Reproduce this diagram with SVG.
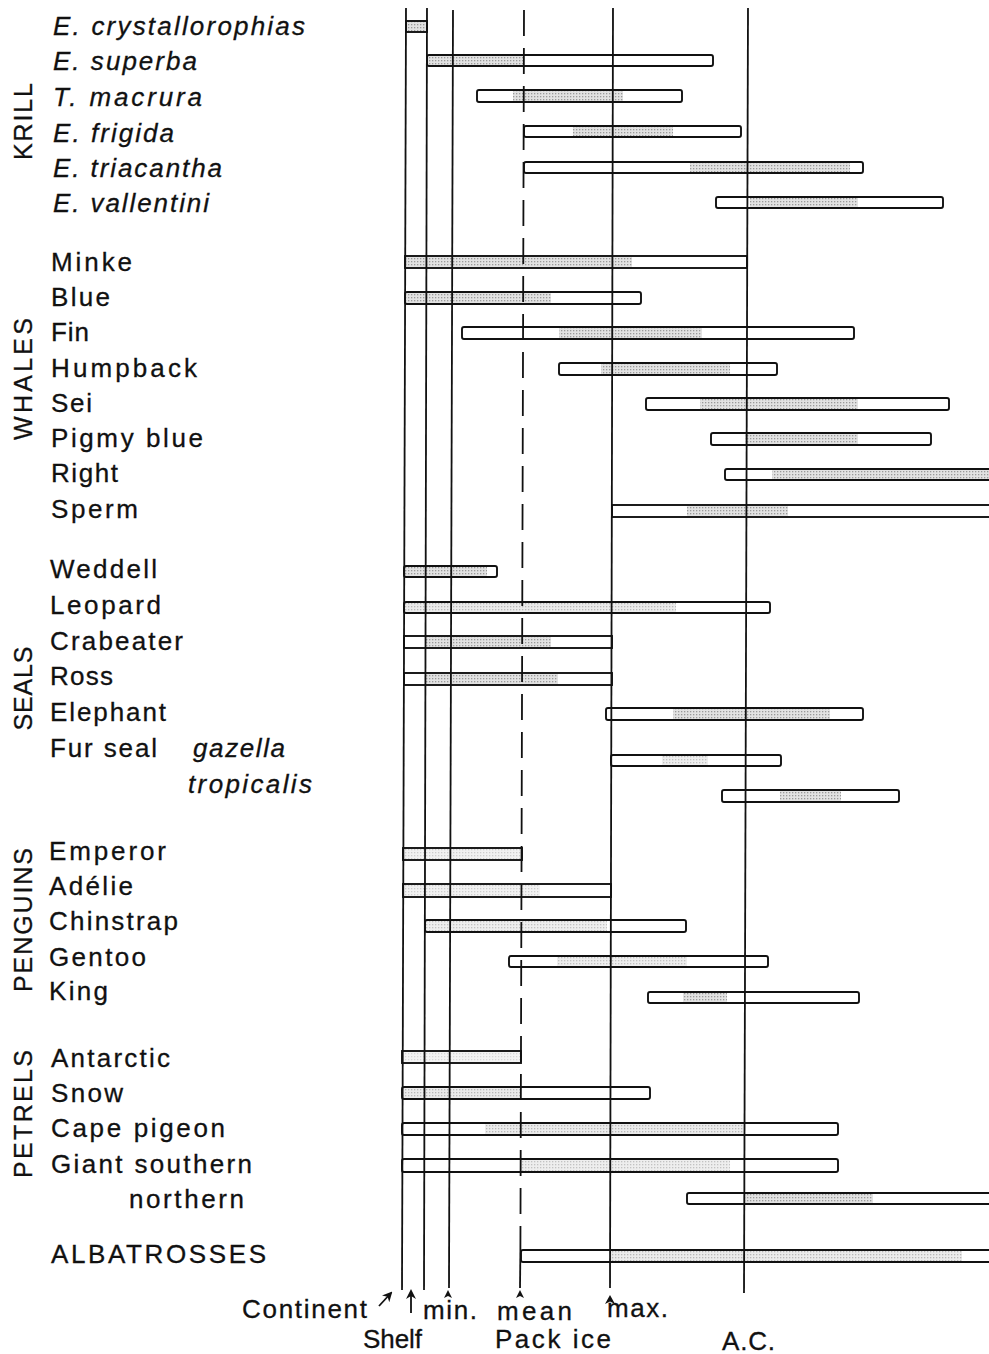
<svg xmlns="http://www.w3.org/2000/svg" width="989" height="1354" viewBox="0 0 989 1354">
<style>
.lb{font-family:"Liberation Sans",Arial,Helvetica,sans-serif;font-size:26px;fill:#111;stroke:#111;stroke-width:0.3}
.gl{font-size:25px}
.it{font-style:italic}
.bar{fill:none;stroke:#111;stroke-width:1.9}
.bg{fill:#fff}
.st{fill:url(#stip)}
.ax{stroke:#111;stroke-width:1.8;fill:none}
.dash{stroke-dasharray:26 12}
</style>
<defs>
<pattern id="stip" width="3" height="3" patternUnits="userSpaceOnUse">
<rect width="3" height="3" fill="#e2e2e2"/>
<rect x="0" y="0" width="1.3" height="1.3" fill="#9a9a9a"/>
</pattern>
<marker id="ah" viewBox="0 0 10 10" refX="8" refY="5" markerWidth="10" markerHeight="10" orient="auto" markerUnits="userSpaceOnUse">
<path d="M0,0 L10,5 L0,10 L3,5 z" fill="#111"/>
</marker>
</defs>
<rect width="989" height="1354" fill="#fff"/>

<!-- group labels -->
<g id="group-labels" class="lb gl">
<text transform="translate(32,121.5) rotate(-90)" text-anchor="middle" textLength="77">KRILL</text>
<text transform="translate(32,379) rotate(-90)" text-anchor="middle" textLength="122">WHALES</text>
<text transform="translate(32,688.5) rotate(-90)" text-anchor="middle" textLength="84">SEALS</text>
<text transform="translate(32,920) rotate(-90)" text-anchor="middle" textLength="144">PENGUINS</text>
<text transform="translate(32,1114) rotate(-90)" text-anchor="middle" textLength="128">PETRELS</text>
</g>

<!-- KRILL -->
<g id="e-crystallorophias">
<text class="lb it" x="53" y="35" textLength="252">E. crystallorophias</text>
<rect class="st" x="406" y="21" width="21" height="11"/>
<rect class="bar" x="406" y="21" width="21" height="11" stroke-width="2.4"/>
</g>
<g id="e-superba">
<text class="lb it" x="53" y="70" textLength="144">E. superba</text>
<rect class="bg" x="427" y="55" width="286" height="11" rx="2"/>
<rect class="st" x="428" y="56" width="95" height="9"/>
<rect class="bar" x="427" y="55" width="286" height="11" rx="2"/>
</g>
<g id="t-macrura">
<text class="lb it" x="53" y="106" textLength="149">T. macrura</text>
<rect class="bg" x="477" y="90" width="205" height="12" rx="2"/>
<rect class="st" x="513" y="91" width="110" height="10"/>
<rect class="bar" x="477" y="90" width="205" height="12" rx="2"/>
</g>
<g id="e-frigida">
<text class="lb it" x="53" y="142" textLength="121">E. frigida</text>
<rect class="bg" x="524" y="126" width="217" height="11" rx="2"/>
<rect class="st" x="573" y="127" width="100" height="9"/>
<rect class="bar" x="524" y="126" width="217" height="11" rx="2"/>
</g>
<g id="e-triacantha">
<text class="lb it" x="53" y="177" textLength="169">E. triacantha</text>
<rect class="bg" x="524" y="162" width="339" height="11" rx="2"/>
<rect class="st" x="690" y="163" width="160" height="9"/>
<rect class="bar" x="524" y="162" width="339" height="11" rx="2"/>
</g>
<g id="e-vallentini">
<text class="lb it" x="53" y="212" textLength="156">E. vallentini</text>
<rect class="bg" x="716" y="197" width="227" height="11" rx="2"/>
<rect class="st" x="750" y="198" width="108" height="9"/>
<rect class="bar" x="716" y="197" width="227" height="11" rx="2"/>
</g>

<!-- WHALES -->
<g id="minke">
<text class="lb" x="51" y="271" textLength="81">Minke</text>
<rect class="bg" x="405" y="256" width="342" height="12"/>
<rect class="st" x="406" y="257" width="226" height="10"/>
<rect class="bar" x="405" y="256" width="342" height="12"/>
</g>
<g id="blue">
<text class="lb" x="51" y="306" textLength="59">Blue</text>
<rect class="bg" x="405" y="292" width="236" height="12" rx="2"/>
<rect class="st" x="406" y="293" width="145" height="10"/>
<rect class="bar" x="405" y="292" width="236" height="12" rx="2"/>
</g>
<g id="fin">
<text class="lb" x="51" y="341" textLength="38">Fin</text>
<rect class="bg" x="462" y="327" width="392" height="12" rx="2"/>
<rect class="st" x="559" y="328" width="143" height="10"/>
<rect class="bar" x="462" y="327" width="392" height="12" rx="2"/>
</g>
<g id="humpback">
<text class="lb" x="51" y="377" textLength="146">Humpback</text>
<rect class="bg" x="559" y="363" width="218" height="12" rx="2"/>
<rect class="st" x="601" y="364" width="129" height="10"/>
<rect class="bar" x="559" y="363" width="218" height="12" rx="2"/>
</g>
<g id="sei">
<text class="lb" x="51" y="412" textLength="41">Sei</text>
<rect class="bg" x="646" y="398" width="303" height="12" rx="2"/>
<rect class="st" x="700" y="399" width="158" height="10"/>
<rect class="bar" x="646" y="398" width="303" height="12" rx="2"/>
</g>
<g id="pigmy-blue">
<text class="lb" x="51" y="447" textLength="152">Pigmy blue</text>
<rect class="bg" x="711" y="433" width="220" height="12" rx="2"/>
<rect class="st" x="745" y="434" width="113" height="10"/>
<rect class="bar" x="711" y="433" width="220" height="12" rx="2"/>
</g>
<g id="right">
<text class="lb" x="51" y="482" textLength="67">Right</text>
<rect class="bg" x="725" y="469" width="275" height="11" rx="2"/>
<rect class="st" x="772" y="470" width="220" height="9"/>
<rect class="bar" x="725" y="469" width="275" height="11" rx="2"/>
</g>
<g id="sperm">
<text class="lb" x="51" y="518" textLength="87">Sperm</text>
<rect class="bg" x="612" y="505" width="390" height="12"/>
<rect class="st" x="687" y="506" width="101" height="10"/>
<rect class="bar" x="612" y="505" width="390" height="12"/>
</g>

<!-- SEALS -->
<g id="weddell">
<text class="lb" x="50" y="578" textLength="107">Weddell</text>
<rect class="bg" x="404" y="566" width="93" height="11" rx="2"/>
<rect class="st" x="405" y="567" width="82" height="9"/>
<rect class="bar" x="404" y="566" width="93" height="11" rx="2"/>
</g>
<g id="leopard">
<text class="lb" x="50" y="614" textLength="111">Leopard</text>
<rect class="bg" x="404" y="602" width="366" height="11" rx="2"/>
<rect class="st" x="405" y="603" width="271" height="9" opacity="0.7"/>
<rect class="bar" x="404" y="602" width="366" height="11" rx="2"/>
</g>
<g id="crabeater">
<text class="lb" x="50" y="650" textLength="133">Crabeater</text>
<rect class="bg" x="404" y="636" width="208" height="12"/>
<rect class="st" x="425" y="637" width="126" height="10"/>
<rect class="bar" x="404" y="636" width="208" height="12"/>
</g>
<g id="ross">
<text class="lb" x="50" y="685" textLength="63">Ross</text>
<rect class="bg" x="404" y="673" width="208" height="12"/>
<rect class="st" x="425" y="674" width="133" height="10"/>
<rect class="bar" x="404" y="673" width="208" height="12"/>
</g>
<g id="elephant">
<text class="lb" x="50" y="721" textLength="116">Elephant</text>
<rect class="bg" x="606" y="708" width="257" height="12" rx="2"/>
<rect class="st" x="673" y="709" width="157" height="10"/>
<rect class="bar" x="606" y="708" width="257" height="12" rx="2"/>
</g>
<g id="fur-seal-gazella">
<text class="lb" x="50" y="757" textLength="107">Fur seal</text>
<text class="lb it" x="193" y="757" textLength="92">gazella</text>
<rect class="bg" x="611" y="755" width="170" height="11" rx="2"/>
<rect class="st" x="662" y="756" width="46" height="9" opacity="0.6"/>
<rect class="bar" x="611" y="755" width="170" height="11" rx="2"/>
</g>
<g id="fur-seal-tropicalis">
<text class="lb it" x="188" y="793" textLength="124">tropicalis</text>
<rect class="bg" x="722" y="790" width="177" height="12" rx="2"/>
<rect class="st" x="780" y="791" width="61" height="10"/>
<rect class="bar" x="722" y="790" width="177" height="12" rx="2"/>
</g>

<!-- PENGUINS -->
<g id="emperor">
<text class="lb" x="49" y="860" textLength="117">Emperor</text>
<rect class="bg" x="403" y="848" width="119" height="12"/>
<rect class="st" x="404" y="849" width="117" height="10" opacity="0.5"/>
<rect class="bar" x="403" y="848" width="119" height="12"/>
</g>
<g id="adelie">
<text class="lb" x="49" y="895" textLength="84">Adélie</text>
<rect class="bg" x="403" y="884" width="208" height="13"/>
<rect class="st" x="404" y="885" width="136" height="11" opacity="0.5"/>
<rect class="bar" x="403" y="884" width="208" height="13"/>
</g>
<g id="chinstrap">
<text class="lb" x="49" y="930" textLength="129">Chinstrap</text>
<rect class="bg" x="425" y="920" width="261" height="12" rx="2"/>
<rect class="st" x="426" y="921" width="181" height="10" opacity="0.6"/>
<rect class="bar" x="425" y="920" width="261" height="12" rx="2"/>
</g>
<g id="gentoo">
<text class="lb" x="49" y="966" textLength="97">Gentoo</text>
<rect class="bg" x="509" y="956" width="259" height="11" rx="2"/>
<rect class="st" x="557" y="957" width="130" height="9" opacity="0.6"/>
<rect class="bar" x="509" y="956" width="259" height="11" rx="2"/>
</g>
<g id="king">
<text class="lb" x="49" y="1000" textLength="59">King</text>
<rect class="bg" x="648" y="992" width="211" height="11" rx="2"/>
<rect class="st" x="683" y="993" width="44" height="9"/>
<rect class="bar" x="648" y="992" width="211" height="11" rx="2"/>
</g>

<!-- PETRELS -->
<g id="antarctic">
<text class="lb" x="51" y="1067" textLength="119">Antarctic</text>
<rect class="bg" x="402" y="1051" width="119" height="12"/>
<rect class="st" x="403" y="1052" width="117" height="10" opacity="0.4"/>
<rect class="bar" x="402" y="1051" width="119" height="12"/>
</g>
<g id="snow">
<text class="lb" x="51" y="1102" textLength="72">Snow</text>
<rect class="bg" x="402" y="1087" width="248" height="12" rx="2"/>
<rect class="st" x="403" y="1088" width="118" height="10" opacity="0.7"/>
<rect class="bar" x="402" y="1087" width="248" height="12" rx="2"/>
</g>
<g id="cape-pigeon">
<text class="lb" x="51" y="1137" textLength="174">Cape pigeon</text>
<rect class="bg" x="402" y="1123" width="436" height="12" rx="2"/>
<rect class="st" x="485" y="1124" width="259" height="10" opacity="0.7"/>
<rect class="bar" x="402" y="1123" width="436" height="12" rx="2"/>
</g>
<g id="giant-southern">
<text class="lb" x="51" y="1173" textLength="201">Giant southern</text>
<rect class="bg" x="402" y="1159" width="436" height="13" rx="2"/>
<rect class="st" x="520" y="1160" width="210" height="11" opacity="0.6"/>
<rect class="bar" x="402" y="1159" width="436" height="13" rx="2"/>
</g>
<g id="giant-northern">
<text class="lb" x="129" y="1208" textLength="115">northern</text>
<rect class="bg" x="687" y="1193" width="313" height="11" rx="2"/>
<rect class="st" x="745" y="1194" width="128" height="9"/>
<rect class="bar" x="687" y="1193" width="313" height="11" rx="2"/>
</g>

<!-- ALBATROSSES -->
<g id="albatrosses">
<text class="lb" x="51" y="1263" textLength="215">ALBATROSSES</text>
<rect class="bg" x="521" y="1250" width="480" height="12" rx="2"/>
<rect class="st" x="611" y="1251" width="351" height="10" opacity="0.7"/>
<rect class="bar" x="521" y="1250" width="480" height="12" rx="2"/>
</g>

<!-- axis lines (zone boundaries) -->
<g id="connectors">
<line class="ax" x1="406" y1="8" x2="402" y2="1290"/>
<line class="ax" x1="427" y1="8" x2="424" y2="1290"/>
<line class="ax" x1="453" y1="10" x2="449" y2="1288"/>
<line class="ax dash" x1="524" y1="10" x2="520.4" y2="1250"/>
<line class="ax" x1="520.4" y1="1250" x2="520" y2="1288"/>
<line class="ax" x1="613" y1="8" x2="610" y2="1288"/>
<line class="ax" x1="748" y1="8" x2="744" y2="1293"/>
<line class="ax" x1="379" y1="1306" x2="391" y2="1293" stroke-width="1.8" marker-end="url(#ah)"/>
<line class="ax" x1="411" y1="1313" x2="411" y2="1291" stroke-width="2" marker-end="url(#ah)"/>
<polygon points="448,1290 444,1298 448,1296 452,1298" fill="#111"/>
<polygon points="520,1290 516,1298 520,1296 524,1298" fill="#111"/>
<polygon points="610,1295 605,1304 610,1301.5 615,1304" fill="#111"/>
</g>

<!-- axis labels -->
<g id="axis-labels" class="lb">
<text x="242" y="1318" textLength="125">Continent</text>
<text x="423" y="1319" textLength="54">min.</text>
<text x="497" y="1320" textLength="75">mean</text>
<text x="607" y="1317" textLength="61">max.</text>
<text x="363" y="1348" textLength="59">Shelf</text>
<text x="495" y="1348" textLength="116">Pack ice</text>
<text x="722" y="1350" textLength="53">A.C.</text>
</g>
</svg>
